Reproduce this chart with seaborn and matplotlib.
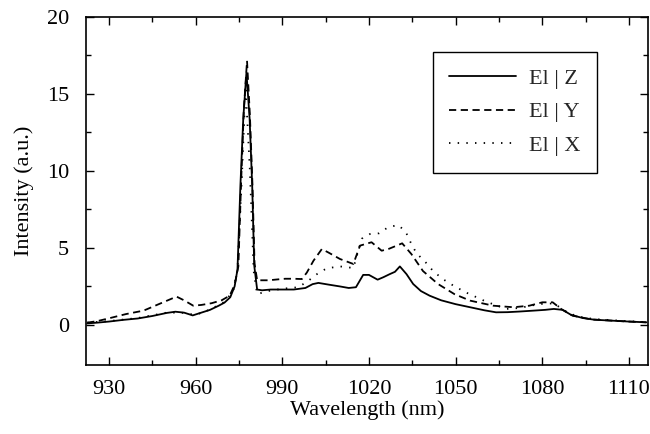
import pandas as pd
import matplotlib
matplotlib.use('Agg')
import matplotlib.pyplot as plt
from matplotlib.ticker import FixedLocator
import seaborn as sns

# polarisation E || Z (solid)
z_wl = [922.5, 926, 930, 935, 940, 945, 950, 953, 956, 959, 962, 965, 968, 970, 972,
        973.5, 974.5, 975.5, 976.5, 977.6, 978.7, 979.6, 980.3, 981.3, 983, 986, 990,
        994, 998, 1000.5, 1002.5, 1006, 1010, 1013, 1015.5, 1018, 1020, 1023, 1025,
        1027.2, 1029, 1030.7, 1033, 1035.3, 1038, 1041, 1045, 1050, 1055, 1060, 1064,
        1068, 1072, 1077, 1081, 1084, 1087, 1090, 1094, 1098, 1104, 1110, 1116]
z_int = [0.1, 0.15, 0.22, 0.33, 0.42, 0.58, 0.78, 0.86, 0.8, 0.62, 0.8, 0.98, 1.25, 1.45, 1.8,
         2.5, 3.6, 9.0, 13.4, 16.4, 13.4, 9.0, 3.85, 2.3, 2.25, 2.3, 2.3,
         2.3, 2.4, 2.65, 2.73, 2.62, 2.5, 2.4, 2.45, 3.25, 3.25, 2.94, 3.1,
         3.3, 3.45, 3.8, 3.3, 2.66, 2.2, 1.9, 1.6, 1.35, 1.15, 0.95, 0.82,
         0.83, 0.87, 0.93, 0.98, 1.04, 0.98, 0.65, 0.45, 0.34, 0.28, 0.22, 0.17]

# E || Y (dashed)
y_wl = [922.5, 926, 930, 936, 942, 948, 953.4, 956, 959.2, 962, 965.5, 969, 971.8, 973.5,
        974.8, 975.8, 976.7, 977.8, 978.8, 979.7, 980.4, 981.3, 983, 985.3, 988, 991, 994,
        996.8, 998.5, 1000.8, 1003.7, 1006, 1010, 1014.6, 1016.9, 1020.9, 1024.4, 1027,
        1030.1, 1031.5, 1034.7, 1038.7, 1043.9, 1049.6, 1055, 1063, 1070, 1075.5, 1080,
        1083.6, 1086.5, 1090.5, 1097, 1104, 1110, 1116]
y_int = [0.15, 0.25, 0.43, 0.71, 0.93, 1.41, 1.84, 1.6, 1.25, 1.3, 1.41, 1.6, 1.9, 2.6,
         3.8, 9.5, 14.0, 17.15, 13.6, 9.0, 4.0, 2.9, 2.9, 2.9, 2.95, 3.0, 3.0,
         2.98, 3.4, 4.17, 4.93, 4.7, 4.28, 3.96, 5.15, 5.37, 4.82, 4.95,
         5.19, 5.3, 4.6, 3.5, 2.66, 2.0, 1.58, 1.25, 1.15, 1.25, 1.47,
         1.47, 1.04, 0.6, 0.36, 0.28, 0.22, 0.17]

# E || X (dotted)
x_wl = [922.5, 930, 940, 950, 955, 960, 965, 970, 973, 974.5, 976, 977.3, 978.8, 980.1,
        981.3, 985, 990, 995.6, 999.1, 1002, 1005.4, 1010, 1014.6, 1017.5, 1020.3,
        1023.5, 1026.6, 1030.1, 1032.7, 1034.4, 1036.4, 1039.6, 1042.4, 1045.9, 1049.6,
        1053.7, 1060.6, 1067.5, 1072, 1079, 1084, 1088, 1092, 1098, 1105, 1116]
x_int = [0.15, 0.25, 0.45, 0.8, 0.8, 0.65, 1.0, 1.5, 2.2, 3.6, 9.5, 15.5, 10.0, 3.5,
         2.0, 2.2, 2.35, 2.45, 2.88, 3.3, 3.68, 3.8, 3.7, 5.6, 5.9,
         5.95, 6.34, 6.49, 6.06, 5.37, 4.67, 4.07, 3.46, 2.94, 2.51,
         2.1, 1.51, 1.04, 1.1, 1.36, 1.4, 0.9, 0.55, 0.38, 0.3, 0.18]

labels = ['El | Z', 'El | Y', 'El | X']

df = pd.concat([
    pd.DataFrame({'wl': z_wl, 'intensity': z_int, 'pol': labels[0]}),
    pd.DataFrame({'wl': y_wl, 'intensity': y_int, 'pol': labels[1]}),
    pd.DataFrame({'wl': x_wl, 'intensity': x_int, 'pol': labels[2]}),
], ignore_index=True)

sns.set_theme(style='ticks')
plt.rcParams['font.family'] = ['Liberation Serif', 'DejaVu Serif']

fig = plt.figure(figsize=(6.5, 4.34), dpi=100)
ax = fig.add_axes([0.132, 0.159, 0.865, 0.802])

dashes = {labels[0]: '', labels[1]: (4, 2.5), labels[2]: (0.8, 4)}
sns.lineplot(data=df, x='wl', y='intensity', style='pol', dashes=dashes,
             color='black', linewidth=1.3, sort=False, estimator=None, ax=ax)

ax.set_xlim(922.0, 1116.6)
ax.set_ylim(-2.6, 20)
ax.set_xticks([930, 960, 990, 1020, 1050, 1080, 1110])
ax.set_yticks([0, 5, 10, 15, 20])
ax.xaxis.set_minor_locator(FixedLocator([945, 975, 1005, 1035, 1065, 1095]))
ax.yaxis.set_minor_locator(FixedLocator([2.5, 7.5, 12.5, 17.5]))
ax.tick_params(which='both', direction='in', top=True, right=True, width=1,
               labelsize=16, color='black', labelcolor='black')
ax.tick_params(axis='x', pad=11)
ax.tick_params(axis='y', pad=12)
ax.tick_params(which='major', length=6)
ax.tick_params(which='minor', length=3.5)
for sp in ax.spines.values():
    sp.set_linewidth(1.2)
    sp.set_color('black')

ax.set_xlabel('Wavelength (nm)', fontsize=16, color='black', labelpad=1)
ax.set_ylabel('Intensity (a.u.)', fontsize=16, color='black', labelpad=9)

leg = ax.legend(loc='upper right', bbox_to_anchor=(0.91, 0.90), fontsize=16,
                frameon=True, fancybox=False, edgecolor='black', framealpha=1,
                handlelength=3.0, labelspacing=0.58, borderpad=0.75,
                handletextpad=0.6, borderaxespad=0)
leg.get_frame().set_linewidth(1.0)

fig.savefig('out.png', dpi=100)
